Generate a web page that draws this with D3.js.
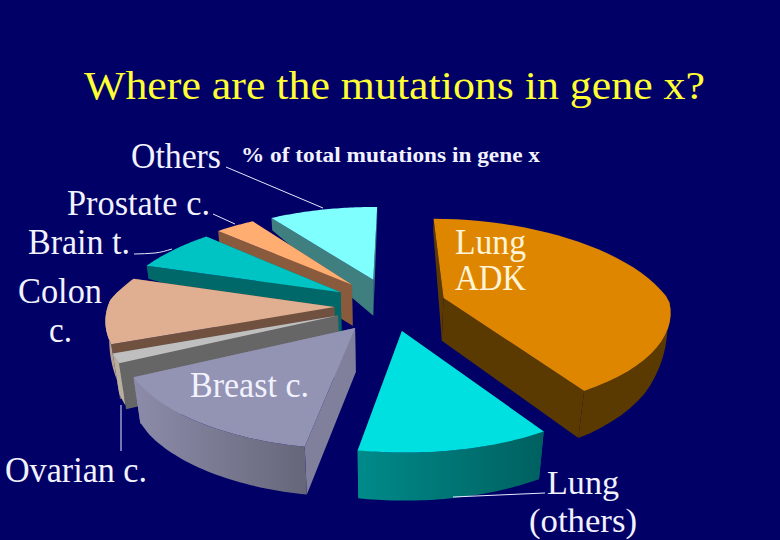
<!DOCTYPE html>
<html>
<head>
<meta charset="utf-8">
<script src="https://cdnjs.cloudflare.com/ajax/libs/d3/7.8.5/d3.min.js"></script>
<style>
	html, body { margin: 0; padding: 0; background: #000066; }
	svg { display: block; }
	text { font-family: "Liberation Serif", serif; }
</style>
</head>
<body>
<svg id="plot" width="780" height="540"></svg>
<script>
	var categories = ["Lung ADK", "Lung (others)", "Breast c.", "Ovarian c.", "Colon c.", "Brain t.", "Prostate c.", "Others"];
	var percents = [40.7, 11.9, 14.9, 1.5, 10.5, 7, 3.5, 10];
	var chartTitle = "Where are the mutations in gene x?";
	var chartNote = "% of total mutations in gene x";

	// colours per slice
	var topColors = ["#df8600", "#00e0e0", "#9393b3", "#bfbfbf", "#e0ae90", "#00c4c4", "#ffad70", "#80ffff"];
	var wallColors = ["#5a3a00", "#007a7a", "#80809c", "#666666", "#70503f", "#006868", "#8a5a3c", "#3f7f7f"];
	var rimColors = ["#5a3a00", "url(#rimLung)", "url(#rimBreast)", "#b8afa0", "#b8a08c", "#006868", "#8a5a3c", "#3f7f7f"];

	// how far each slice is pulled out of the pie, and which way (degrees, clockwise from back)
	var pullDist = [66, 71, 65, 52, 46, 42, 45, 48];
	var pullDir = [86, 161, 200, 229, 250, 295, 323, 354];

	var cx = 378, cy = 300, R = 225, squash = 100 / 225;
	var rad = function(d){ return d * Math.PI / 180; };

	// wall height, taken from how far back the point is
	var wallHeight = d3.scaleLinear()
		.domain([-1.3, -0.8, 0, 0.18, 0.36, 1.2])
		.range([48, 47, 43, 41, 13, 12])
		.clamp(true);
	// the outer rim thins out towards the sides
	var rimHeight = d3.scaleLinear()
		.domain([-1.3, -0.8, -0.5, -0.2, 0, 0.1])
		.range([48, 47, 40, 24, 8, 0])
		.clamp(true);

	var project = function(u, v, height){
		var n = v / R;
		var w = 1 + (n > 0 ? 0.25 : 0.115) * n;
		var x = cx + u / w;
		var y = cy - squash * v / w;
		if(height){
			var h = height(n);
			x = cx + (x - cx) * (1 - h * 0.0006);
			y = y + h;
		}
		return [x, y];
	};

	var pie = d3.pie().sort(null).startAngle(rad(1)).endAngle(rad(361));
	var slices = pie(percents);
	var line = d3.line();

	var svg = d3.select("#plot");
	svg.append("rect").attr("width", 780).attr("height", 540).attr("fill", "#000066");

	var defs = svg.append("defs");
	var gradient = function(id, c1, c2){
		var g = defs.append("linearGradient").attr("id", id);
		g.append("stop").attr("offset", "0%").attr("stop-color", c1);
		g.append("stop").attr("offset", "100%").attr("stop-color", c2);
	};
	gradient("rimLung", "#008a8a", "#006060");
	gradient("rimBreast", "#8c8caa", "#66667a");

	var drawSlice = function(i){
		var s = slices[i];
		var ou = pullDist[i] * Math.sin(rad(pullDir[i]));
		var ov = pullDist[i] * Math.cos(rad(pullDir[i]));
		var world = d3.range(0, 41).map(function(k){
			var a = s.startAngle + (s.endAngle - s.startAngle) * k / 40;
			return [ou + R * Math.sin(a), ov + R * Math.cos(a)];
		});
		var first = world[0], last = world[40];
		var wall = function(p){
			return line([project(ou, ov), project(p[0], p[1]), project(p[0], p[1], wallHeight), project(ou, ov, wallHeight)]) + "Z";
		};
		var g = svg.append("g").attr("class", "slice");
		g.append("path").attr("d", wall(last)).attr("fill", wallColors[i]);
		g.append("path").attr("d", wall(first)).attr("fill", wallColors[i]);
		var rimTop = world.map(function(p){ return project(p[0], p[1]); });
		var rimBottom = world.map(function(p){ return project(p[0], p[1], rimHeight); }).reverse();
		g.append("path").attr("d", line(rimTop.concat(rimBottom)) + "Z").attr("fill", rimColors[i]);
		g.append("path").attr("d", line([project(ou, ov)].concat(rimTop)) + "Z").attr("fill", topColors[i]);
	};

	// back to front
	[7, 6, 5, 4, 3, 2, 0, 1].forEach(drawSlice);

	// leader lines
	var leaders = [
		[[226, 167], [323, 208]],
		[[213, 214], [235, 224]],
		[[134, 254], [155, 253], [172, 249]],
		[[121, 405], [121, 451]],
		[[453, 497], [545, 493]]
	];
	svg.selectAll(".leader").data(leaders).enter()
		.append("path")
		.attr("class", "leader")
		.attr("d", d3.line().curve(d3.curveMonotoneX))
		.attr("fill", "none")
		.attr("stroke", "#e8e8ff")
		.attr("stroke-width", 1);

	var label = function(t, x, y, size, width, color, bold){
		svg.append("text").text(t)
			.attr("x", x).attr("y", y)
			.attr("font-size", size)
			.attr("font-weight", bold ? "bold" : "normal")
			.attr("textLength", width)
			.attr("lengthAdjust", "spacingAndGlyphs")
			.attr("fill", color);
	};
	var white = "#f2f2ff";
	label(chartTitle, 84, 99, 41, 621, "#ffff33");
	label(chartNote, 241, 162, 20, 299, white, true);
	label("Others", 131, 168, 35, 90, white);
	label("Prostate c.", 67, 215, 35, 143, white);
	label("Brain t.", 28, 254, 35, 102, white);
	label("Colon", 18, 303, 35, 84, white);
	label("c.", 49, 342, 35, 23, white);
	label("Lung", 455, 254, 35, 71, "#fff4d8");
	label("ADK", 455, 290, 35, 71, "#fff4d8");
	label("Breast c.", 190, 397, 35, 119, white);
	label("Ovarian c.", 5, 482, 35, 142, white);
	label("Lung", 547, 494, 34, 72, white);
	label("(others)", 529, 532, 34, 108, white);
</script>
</body>
</html>
